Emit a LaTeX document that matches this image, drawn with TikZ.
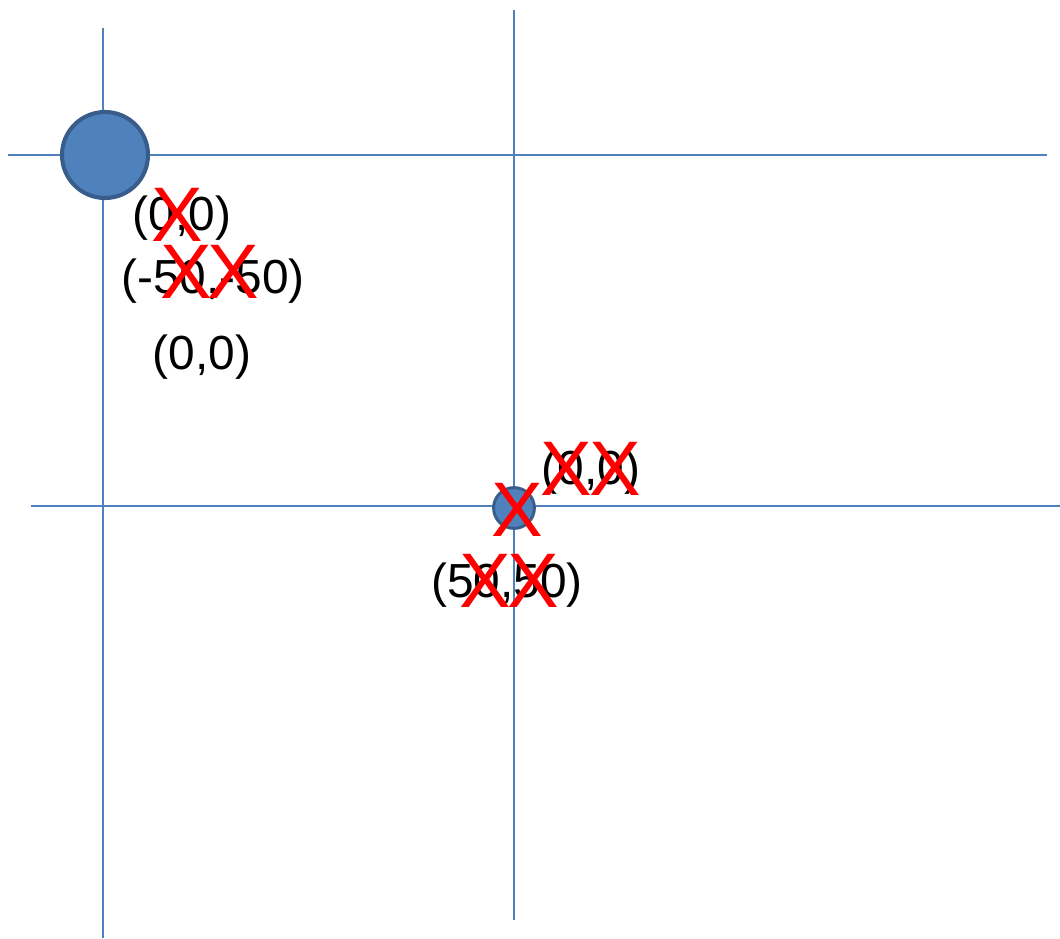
\documentclass[tikz,border=0pt]{standalone}
\usepackage{fontspec}
\setmainfont{Liberation Sans}
\usetikzlibrary{positioning}
\definecolor{axisblue}{RGB}{79,129,189}
\definecolor{ringblue}{RGB}{56,93,138}

\begin{document}
\begin{tikzpicture}[x=0.025cm,y=-0.025cm,
  axis/.style={axisblue,line width=1.4pt},
  dot/.style={circle,draw=ringblue,fill=axisblue,inner sep=0pt},
  coordlabel/.style={font=\fontsize{34}{40}\selectfont,inner sep=0pt},
  cross/.style={red,font=\fontsize{55}{60}\selectfont,inner sep=0pt}]
  \useasboundingbox (0,0) rectangle (1060,939);

  % two pairs of axes
  \coordinate (left top) at (103,28);
  \coordinate (left bottom) at (103,938);
  \coordinate (mid top) at (514,10);
  \coordinate (mid bottom) at (514,920);
  \coordinate (upper west) at (8,155);
  \coordinate (upper east) at (1047,155);
  \coordinate (lower west) at (31,506);
  \coordinate (lower east) at (1060,506);
  \draw[axis] (left top) -- (left bottom);
  \draw[axis] (mid top) -- (mid bottom);
  \draw[axis] (upper west) -- (upper east);
  \draw[axis] (lower west) -- (lower east);

  \node[dot,line width=2.9pt,minimum size=2.15cm] (big dot) at (105,155) {};
  \node[dot,line width=2.1pt,minimum size=1.02cm] (small dot) at (514,508) {};

  \node[coordlabel] (origin a) at (182,218) {(0,0)};
  \node[coordlabel] (shifted) at (213,281) {(-50,-50)};
  \node[coordlabel] (origin b) at (202,357) {(0,0)};
  \node[coordlabel] (origin c) at (591,472) {(0,0)};
  \node[coordlabel] (moved) at (507,585) {(50,50)};

  % crossings out
  \node[cross] (x1) at (177,215) {X};
  \node[cross] (x2) at (186,272) {X};
  \node[cross] (x3) at (233,272) {X};
  \node[cross] (x4) at (517,510) {X};
  \node[cross] (x5) at (566,469) {X};
  \node[cross] (x6) at (615,469) {X};
  \node[cross] (x7) at (485,581) {X};
  \node[cross] (x8) at (533,581) {X};
\end{tikzpicture}
\end{document}
